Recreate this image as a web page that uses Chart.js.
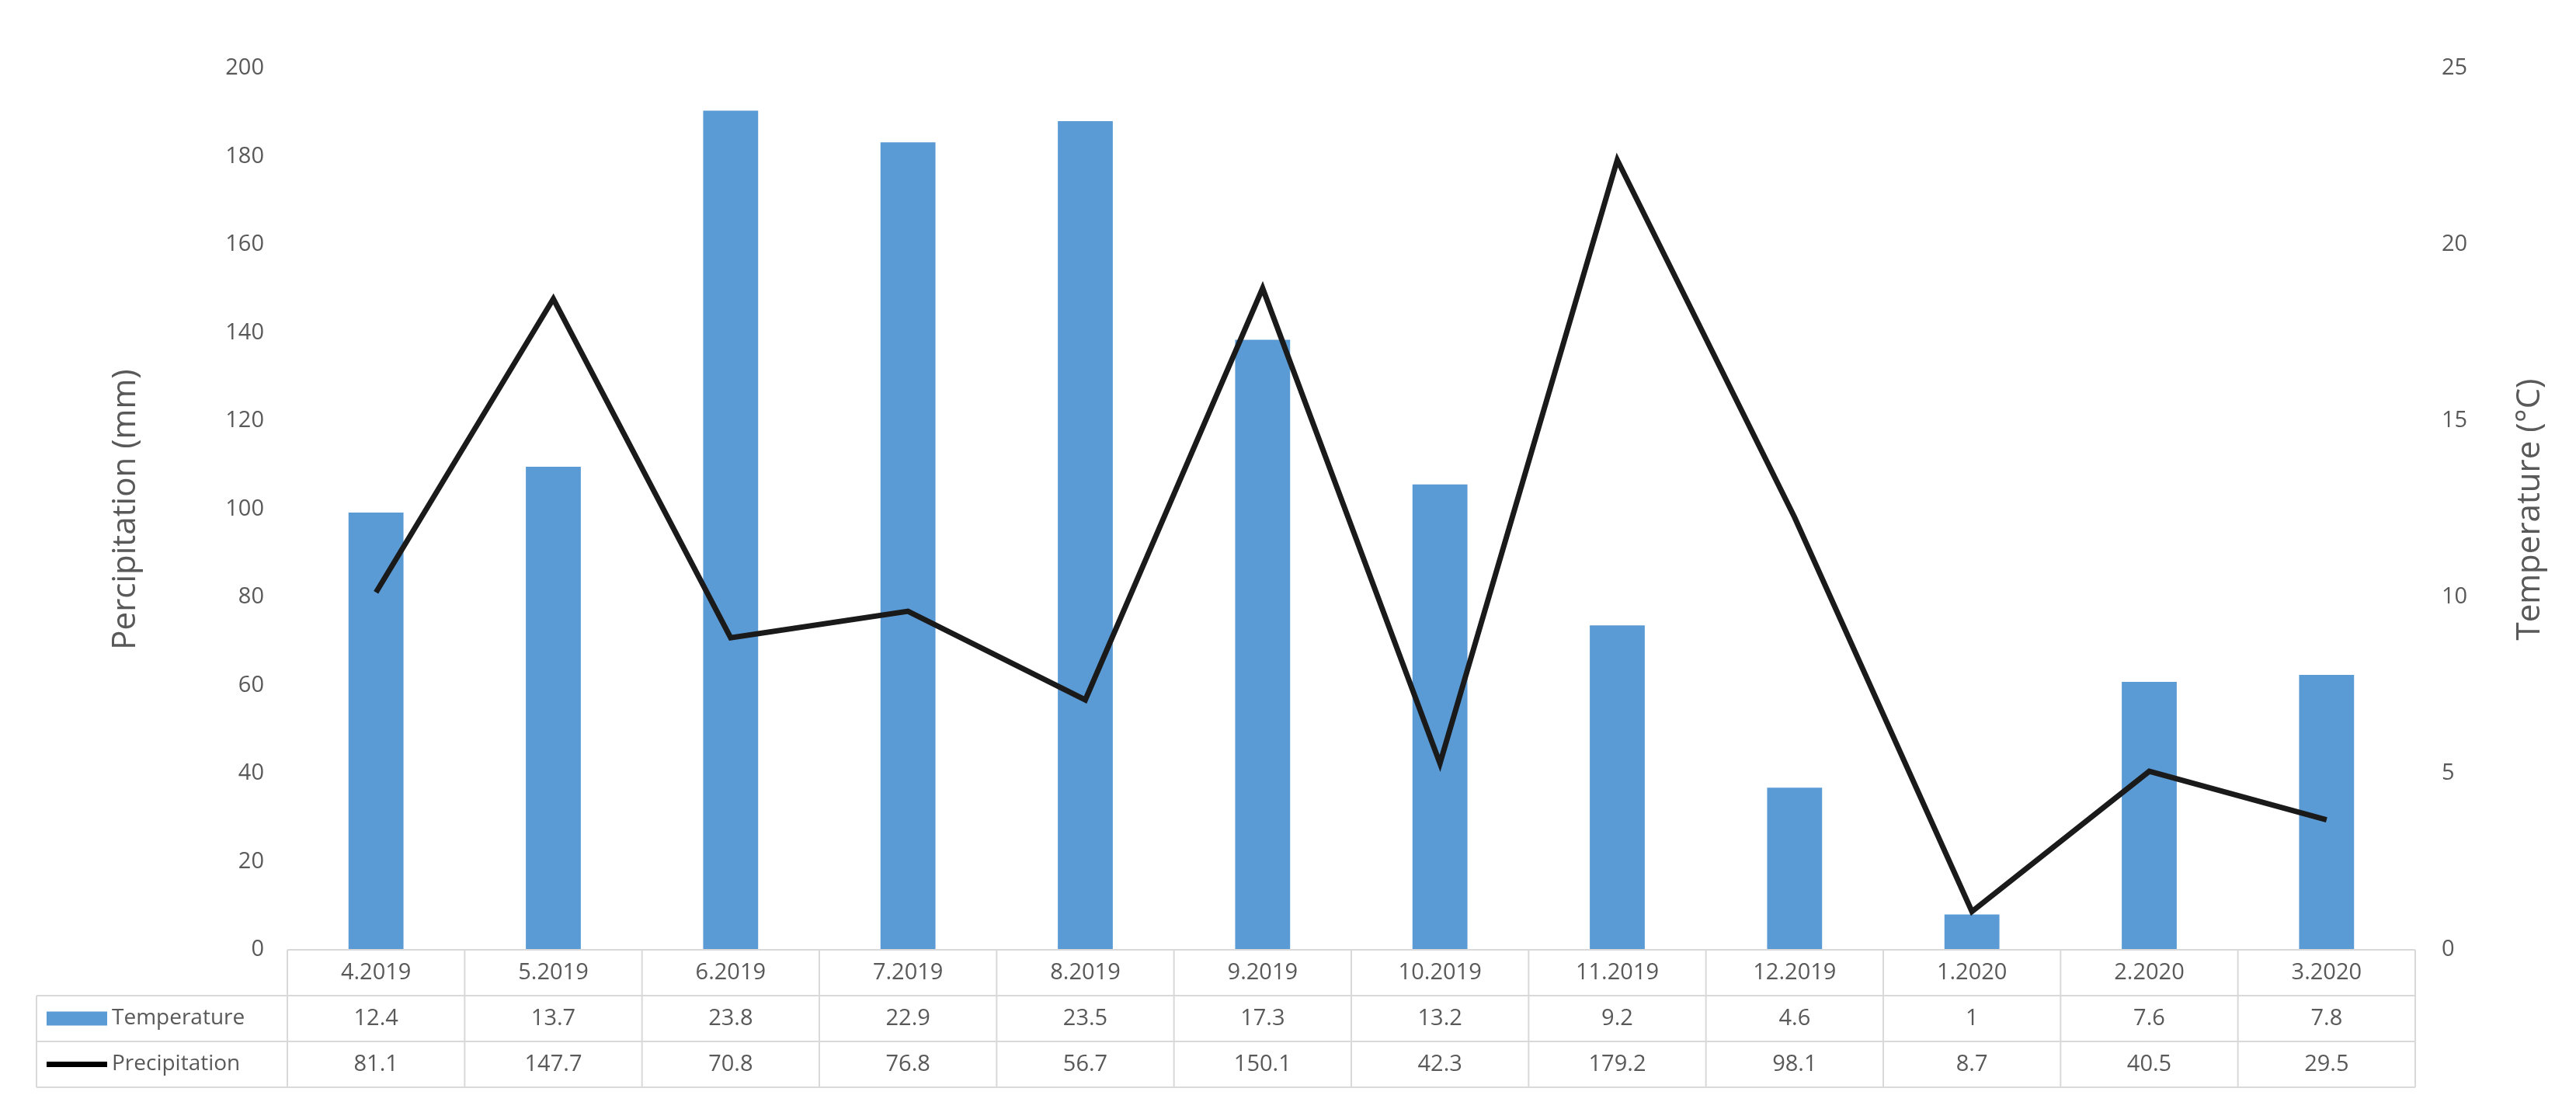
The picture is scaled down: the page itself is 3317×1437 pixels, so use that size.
<!DOCTYPE html>
<html><head><meta charset="utf-8">
<script src="https://cdn.jsdelivr.net/npm/chart.js@4/dist/chart.umd.min.js"></script>
<style>html,body{margin:0;background:#fff}#wrap{width:3317px;height:1437px}</style>
</head><body><div id="wrap"><canvas id="c" width="3317" height="1437"></canvas></div>
<script>
const months = ["4.2019","5.2019","6.2019","7.2019","8.2019","9.2019","10.2019","11.2019","12.2019","1.2020","2.2020","3.2020"];
const temperature = [12.4, 13.7, 23.8, 22.9, 23.5, 17.3, 13.2, 9.2, 4.6, 1, 7.6, 7.8];
const precipitation = [81.1, 147.7, 70.8, 76.8, 56.7, 150.1, 42.3, 179.2, 98.1, 8.7, 40.5, 29.5];
const leftTicks = [0, 20, 40, 60, 80, 100, 120, 140, 160, 180, 200];
const rightTicks = [0, 5, 10, 15, 20, 25];

const FONT = "'Open Sans', 'Noto Sans', sans-serif";
const TXT = "#595959";
const BLUE = "#5B9BD5";

// data table + axis titles under / beside the plot
const tablePlugin = {
  id: "table",
  afterDraw(chart) {
    const ctx = chart.ctx, x = chart.scales.x, area = chart.chartArea;
    const rows = [area.bottom, area.bottom + 59, area.bottom + 118, area.bottom + 177];
    const left0 = 47;
    const step = (area.right - area.left) / months.length;
    ctx.save();
    ctx.strokeStyle = "#d9d9d9"; ctx.lineWidth = 2;
    ctx.beginPath();
    // horizontal lines
    ctx.moveTo(area.left, rows[0]); ctx.lineTo(area.right, rows[0]);
    for (let r = 1; r < rows.length; r++) { ctx.moveTo(left0, rows[r]); ctx.lineTo(area.right, rows[r]); }
    // vertical lines
    for (let i = 0; i <= months.length; i++) {
      const xx = area.left + i * step;
      ctx.moveTo(xx, rows[0]); ctx.lineTo(xx, rows[3]);
    }
    ctx.moveTo(left0, rows[1]); ctx.lineTo(left0, rows[3]);
    ctx.stroke();

    ctx.fillStyle = TXT; ctx.font = "29px " + FONT;
    ctx.textAlign = "center"; ctx.textBaseline = "middle";
    months.forEach((m, i) => {
      const cx = x.getPixelForValue(i);
      ctx.fillText(m, cx, (rows[0] + rows[1]) / 2);
      ctx.fillText(String(temperature[i]), cx, (rows[1] + rows[2]) / 2);
      ctx.fillText(String(precipitation[i]), cx, (rows[2] + rows[3]) / 2);
    });
    // legend keys
    ctx.fillStyle = BLUE;
    ctx.fillRect(60, (rows[1] + rows[2]) / 2 - 9, 78, 18);
    ctx.strokeStyle = "#000"; ctx.lineWidth = 7;
    ctx.beginPath(); ctx.moveTo(60, (rows[2] + rows[3]) / 2); ctx.lineTo(138, (rows[2] + rows[3]) / 2); ctx.stroke();
    ctx.fillStyle = TXT; ctx.textAlign = "left"; ctx.font = "28px " + FONT;
    ctx.fillText("Temperature", 144, (rows[1] + rows[2]) / 2);
    ctx.fillText("Precipitation", 144, (rows[2] + rows[3]) / 2);

    // axis titles
    ctx.font = "42px " + FONT; ctx.textAlign = "center";
    ctx.translate(162, 656); ctx.rotate(-Math.PI / 2);
    ctx.fillText("Percipitation (mm)", 0, 0);
    ctx.setTransform(1, 0, 0, 1, 0, 0);
    ctx.translate(3258, 656); ctx.rotate(-Math.PI / 2);
    ctx.fillText("Temperature (°C)", 0, 0);
    ctx.restore();
  }
};

new Chart(document.getElementById("c"), {
  data: {
    labels: months,
    datasets: [
      { type: "line", label: "Precipitation", data: precipitation, yAxisID: "y",
        borderColor: "#1a1a1a", borderWidth: 7, pointRadius: 0, tension: 0, order: 0 },
      { type: "bar", label: "Temperature", data: temperature, yAxisID: "y1",
        backgroundColor: BLUE, categoryPercentage: 1, barPercentage: 0.31, order: 1 }
    ]
  },
  options: {
    responsive: false, animation: false,
    layout: { padding: { top: 88, bottom: 214, left: 0, right: 0 } },
    plugins: { legend: { display: false }, tooltip: { enabled: false } },
    scales: {
      x: { display: false, offset: true },
      y: {
        position: "left", min: 0, max: 200,
        afterBuildTicks: s => { s.ticks = leftTicks.map(v => ({ value: v })); },
        afterFit: s => { s.width = 370; },
        grid: { display: false }, border: { display: false },
        ticks: { color: TXT, font: { size: 29, family: FONT }, padding: 22 }
      },
      y1: {
        position: "right", min: 0, max: 25,
        afterBuildTicks: s => { s.ticks = rightTicks.map(v => ({ value: v })); },
        afterFit: s => { s.width = 207; },
        grid: { display: false }, border: { display: false },
        ticks: { color: TXT, font: { size: 29, family: FONT }, padding: 26 }
      }
    }
  },
  plugins: [tablePlugin]
});
</script>
</body></html>
